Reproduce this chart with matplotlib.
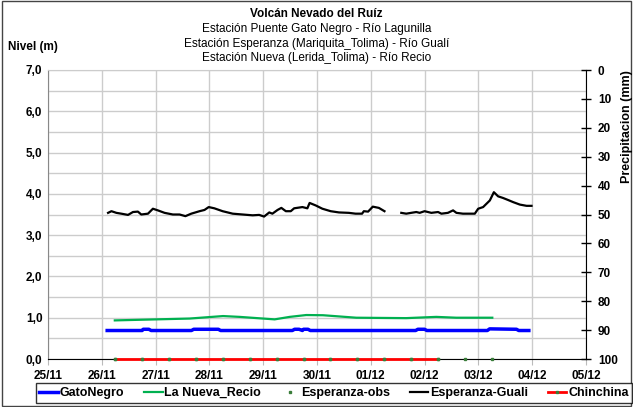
import numpy as np
import pandas as pd
import matplotlib
matplotlib.use("Agg")
import matplotlib.pyplot as plt
import matplotlib.dates as mdates
from matplotlib.patches import Rectangle
from matplotlib.ticker import FuncFormatter, MultipleLocator

plt.rcParams['font.family'] = ['Liberation Sans', 'DejaVu Sans']

inicio = pd.Timestamp('2012-11-26 00:00')

# horas desde 26/11 00:00
h_gato = [2.4, 18, 18.5, 21, 22, 40, 41, 52, 53, 85, 86, 88, 89.5, 90, 92, 93, 140, 141, 144, 145, 172, 173, 185, 186, 190.5]
v_gato = [0.69, 0.69, 0.72, 0.72, 0.69, 0.69, 0.72, 0.72, 0.69, 0.69, 0.72, 0.72, 0.69, 0.72, 0.72, 0.69, 0.69, 0.72, 0.72, 0.69, 0.69, 0.73, 0.72, 0.69, 0.69]

h_recio = [5.8, 24.4, 39.2, 54.1, 61.5, 77.1, 83.8, 91.2, 98.7, 113.5, 135.8, 149.2, 158.1, 174.2]
v_recio = [0.935, 0.96, 0.98, 1.04, 1.02, 0.96, 1.02, 1.065, 1.06, 1.0, 0.99, 1.02, 1.0, 1.0]

h_guali = [2.8, 4.3, 6.5, 8.7, 11.7, 13.9, 16.1, 17.6, 20.6, 22.8, 25.0, 28.0, 31.7, 34.7, 37.3,
           39.9, 43.6, 45.8, 47.7, 50.2, 53.9, 58.4, 62.8, 67.3, 70.2, 72.4, 74.7, 76.1, 78.4,
           80.1, 82.1, 84.3, 85.8, 89.5, 91.7, 92.7, 95.4, 98.4, 102.1, 105.8, 110.2, 113.2,
           116.1, 116.9, 118.8, 120.9, 123.6, 126.1, 130.0,
           133.6, 135.8, 138.0, 140.3, 141.8, 144.0, 147.0, 150.0, 151.5, 154.4, 156.7, 158.2,
           161.1, 164.1, 166.4, 167.9, 170.1, 171.6, 173.1, 174.9, 176.8, 179.0, 181.3, 183.5,
           186.5, 189.5, 191.7]
v_guali = [3.54, 3.58, 3.54, 3.52, 3.49, 3.56, 3.57, 3.50, 3.52, 3.64, 3.60, 3.54, 3.50, 3.50, 3.46,
           3.52, 3.58, 3.61, 3.68, 3.65, 3.58, 3.52, 3.50, 3.48, 3.49, 3.45, 3.55, 3.52, 3.61,
           3.66, 3.58, 3.58, 3.65, 3.68, 3.65, 3.78, 3.72, 3.64, 3.58, 3.55, 3.54, 3.52,
           3.52, 3.58, 3.57, 3.69, 3.66, 3.58, np.nan,
           3.54, 3.52, 3.54, 3.56, 3.54, 3.58, 3.54, 3.56, 3.52, 3.54, 3.60, 3.54,
           3.52, 3.52, 3.52, 3.64, 3.68, 3.76, 3.84, 4.04, 3.94, 3.90, 3.85, 3.80,
           3.74, 3.71, 3.71]

h_obs = [6, 18, 30, 42, 54, 66, 78, 90, 102, 114, 126, 138, 150, 162, 174]
v_obs = [0] * len(h_obs)

h_chin = [6, 18, 30, 42, 54, 66, 78, 90, 102, 114, 126, 138, 150]
v_chin = [0] * len(h_chin)

titulo = ['Volcán Nevado del Ruíz',
          'Estación Puente Gato Negro - Río Lagunilla',
          'Estación Esperanza (Mariquita_Tolima) - Río Gualí',
          'Estación Nueva (Lerida_Tolima) - Río Recio']


def fechas(h):
    return inicio + pd.to_timedelta(h, unit='h')


fig = plt.figure(figsize=(6.33, 4.07), dpi=100)
ax = fig.add_axes([48 / 633, 1 - 359 / 407, 538 / 633, 289 / 407])

ax.plot(fechas(h_gato), v_gato, color='#0000ff', lw=2.5, label='GatoNegro', zorder=3)
ax.plot(fechas(h_recio), v_recio, color='#00b050', lw=1.6, label='La Nueva_Recio', zorder=3)
ax.plot(fechas(h_obs), v_obs, ls='none', marker='s', ms=2, color='#3a7d3a', label='Esperanza-obs',
        zorder=5, clip_on=False)
ax.plot(fechas(h_guali), v_guali, color='black', lw=1.6, label='Esperanza-Guali', zorder=3)
ax.plot(fechas(h_chin), v_chin, color='#ff0000', lw=2, marker='s', ms=2, mfc='#3a7d3a', mec='#3a7d3a',
        label='Chinchina', zorder=4, clip_on=False)

ax.set_xlim(pd.Timestamp('2012-11-25'), pd.Timestamp('2012-12-05'))
ax.set_ylim(0, 7)
ax.xaxis.set_major_locator(mdates.DayLocator())
ax.xaxis.set_major_formatter(mdates.DateFormatter('%d/%m'))
ax.yaxis.set_major_locator(MultipleLocator(1))
ax.yaxis.set_minor_locator(MultipleLocator(0.5))
ax.yaxis.set_major_formatter(FuncFormatter(lambda v, p: f'{v:.1f}'.replace('.', ',')))
ax.grid(True, which='both', color='#cccccc', lw=1)
ax.set_axisbelow(True)
ax.tick_params(axis='both', which='both', length=0, labelsize=8.5, pad=4)
ax.tick_params(axis='x', length=4, color='#bbbbbb')
for lbl in ax.get_xticklabels() + ax.get_yticklabels():
    lbl.set_fontweight('bold')
ax.spines['top'].set_color('#cccccc')
ax.spines['left'].set_color('#888888')
ax.spines['bottom'].set_color('black')
ax.spines['right'].set_visible(False)

ax2 = ax.twinx()
ax2.set_ylim(100, 0)
ax2.yaxis.set_major_locator(MultipleLocator(10))
ax2.tick_params(axis='y', direction='inout', length=7, width=1, labelsize=8.5, pad=5)
for lbl in ax2.get_yticklabels():
    lbl.set_fontweight('bold')
for s in ['top', 'left', 'bottom']:
    ax2.spines[s].set_visible(False)
ax2.spines['right'].set_color('black')

fig.text(0.5, 1 - 14 / 407, titulo[0], ha='center', va='center', fontsize=8.5, fontweight='bold')
for i, t in enumerate(titulo[1:]):
    fig.text(0.5, 1 - (29 + 14.5 * i) / 407, t, ha='center', va='center', fontsize=8.5)
fig.text(8 / 633, 1 - 47 / 407, 'Nivel (m)', ha='left', va='center', fontsize=8.5, fontweight='bold')
fig.text(621 / 633, 1 - 70 / 407, 'Precipitacion (mm)', rotation=90, ha='left', va='top',
         fontsize=9, fontweight='bold')

leg = fig.legend(loc='center', bbox_to_anchor=(334 / 633, 1 - 393 / 407), ncol=5, frameon=True,
                 fancybox=False, edgecolor='black', fontsize=9, handlelength=1.5,
                 handletextpad=0.15, columnspacing=1.55, borderpad=0.3, borderaxespad=0)
leg.get_frame().set_linewidth(1)
for t in leg.get_texts():
    t.set_fontweight('bold')

fig.patches.append(Rectangle((0.003, 0.003), 0.994, 0.994, transform=fig.transFigure,
                             fill=False, edgecolor='#444444', lw=1))

fig.savefig('out.png', dpi=100)
